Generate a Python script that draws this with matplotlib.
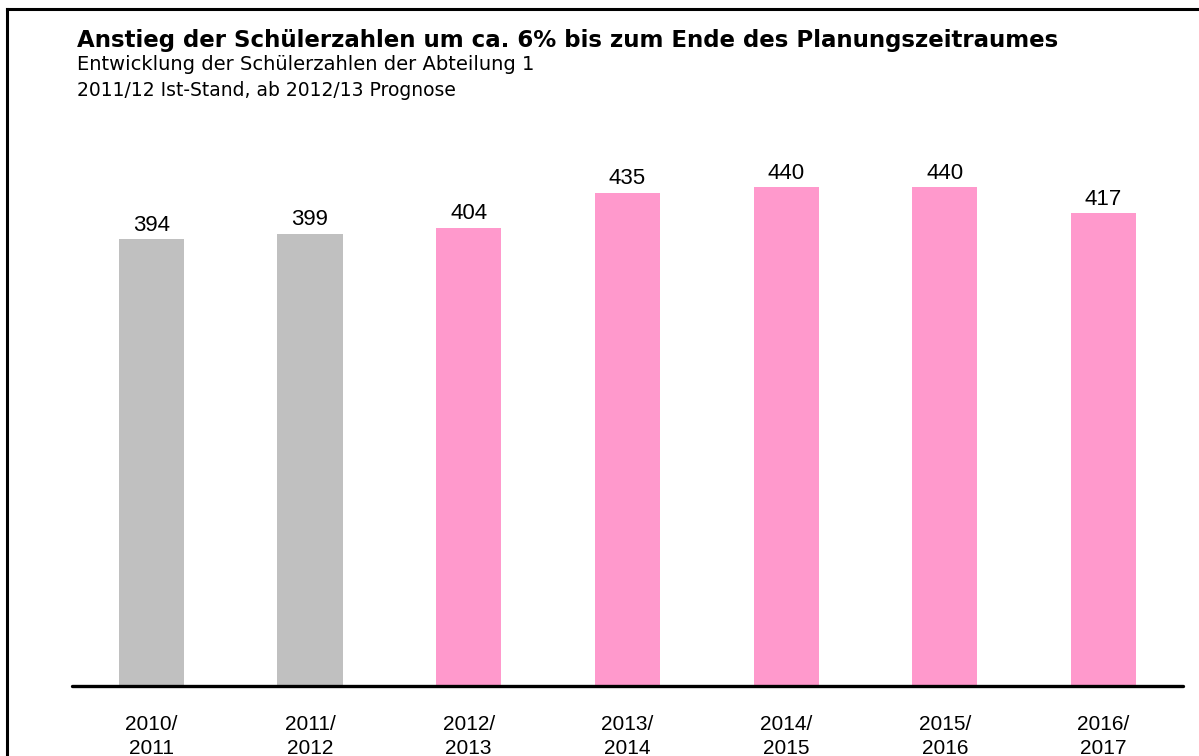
import matplotlib
matplotlib.use("Agg")
from matplotlib import pyplot as plt
from matplotlib.lines import Line2D

# Schülerzahlen der Abteilung 1 (Ist-Werte und Prognose)
years = ['2010/\n2011', '2011/\n2012', '2012/\n2013', '2013/\n2014',
         '2014/\n2015', '2015/\n2016', '2016/\n2017']
students = [394, 399, 404, 435, 440, 440, 417]
is_forecast = [False, False, True, True, True, True, True]

actual_color = '#C0C0C0'
forecast_color = '#FF99CC'

fig = plt.figure(figsize=(11.99, 7.56), dpi=100)
ax = fig.add_axes([0.060, 0.0926, 0.9266, 0.75])

x = list(range(len(years)))
colors = [forecast_color if f else actual_color for f in is_forecast]
bars = ax.bar(x, students, width=0.41, color=colors, zorder=2)

# Werte über den Balken
for xi, val in zip(x, students):
    ax.text(xi, val + 3, str(val), ha='center', va='bottom',
            fontsize=16, family='Liberation Sans')

ax.set_xlim(-0.5, 6.5)
ax.set_ylim(0, 500)
for side in ['top', 'right', 'left']:
    ax.spines[side].set_visible(False)
ax.spines['bottom'].set_linewidth(2.4)
ax.spines['bottom'].set_capstyle('round')
ax.set_yticks([])
ax.set_xticks(x)
ax.set_xticklabels(years, fontsize=15, family='Liberation Sans',
                   linespacing=1.3)
ax.tick_params(axis='x', length=0, pad=21)

# Überschriften
fig.text(77 / 1199, 1 - 40 / 756, 'Anstieg der Schülerzahlen um ca. 6% bis zum Ende des Planungszeitraumes',
         fontsize=16.5, fontweight='bold', family='DejaVu Sans', va='center')
fig.text(77 / 1199, 1 - 64 / 756, 'Entwicklung der Schülerzahlen der Abteilung 1',
         fontsize=14, family='DejaVu Sans', va='center')
fig.text(77 / 1199, 1 - 90 / 756, '2011/12 Ist-Stand, ab 2012/13 Prognose',
         fontsize=13.5, family='DejaVu Sans', va='center')

# Rahmen oben und links
fig.add_artist(Line2D([7 / 1199, 1.0], [1 - 9 / 756, 1 - 9 / 756],
                      transform=fig.transFigure, color='black', linewidth=2.2))
fig.add_artist(Line2D([7 / 1199, 7 / 1199], [0.0, 1 - 9 / 756],
                      transform=fig.transFigure, color='black', linewidth=2.2))

fig.savefig('out.png', dpi=100)
